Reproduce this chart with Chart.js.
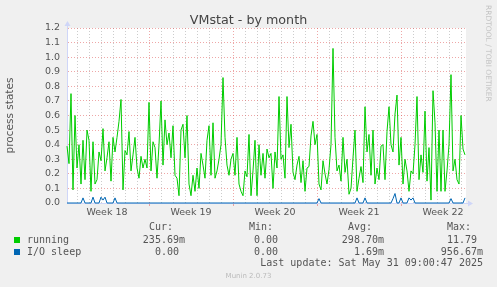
<!DOCTYPE html>
<html>
<head>
<meta charset="utf-8">
<title>VMstat - by month</title>
<script src="https://cdn.jsdelivr.net/npm/chart.js@4.4.1/dist/chart.umd.min.js"></script>
<style>
  html, body { margin: 0; padding: 0; background: #f0f0f0; }
  #wrap { position: relative; width: 497px; height: 287px; overflow: hidden; }
  #wrap canvas { position: absolute; left: 0; top: 0; }
  .t { position: absolute; white-space: pre; font-family: "DejaVu Sans", sans-serif; color: #555; }
  .m { font-family: "DejaVu Sans Mono", monospace; font-size: 10px; line-height: 12px; }
  .sw { position: absolute; width: 6px; height: 6px; }
</style>
</head>
<body>
<div id="wrap">
  <canvas id="chart" width="497" height="287"></canvas>
</div>
<script>
// x axis is in hours, 0 = start of week 19; one sample every 4 hours
const startHour = -164;
const stepHours = 4;
const endHour = 634;

const weekLabels = ['Week 18', 'Week 19', 'Week 20', 'Week 21', 'Week 22'];
const yTicks = [0, 0.1, 0.2, 0.3, 0.4, 0.5, 0.6, 0.7, 0.8, 0.9, 1.0, 1.1, 1.2];

const running = [
  0.39, 0.27, 0.75, 0.09, 0.60, 0.24, 0.40, 0.13, 0.43, 0.16, 0.50, 0.43, 0.08, 0.42, 0.13, 0.16, 0.35, 0.29, 0.51, 0.22,
  0.31, 0.42, 0.15, 0.45, 0.35, 0.45, 0.56, 0.71, 0.09, 0.36, 0.33, 0.49, 0.22, 0.33, 0.45, 0.24, 0.17, 0.32, 0.24, 0.30,
  0.24, 0.69, 0.22, 0.42, 0.38, 0.17, 0.40, 0.70, 0.26, 0.57, 0.40, 0.48, 0.31, 0.53, 0.19, 0.17, 0.05, 0.50, 0.54, 0.31,
  0.60, 0.13, 0.05, 0.19, 0.08, 0.24, 0.10, 0.34, 0.26, 0.17, 0.43, 0.53, 0.19, 0.55, 0.17, 0.22, 0.30, 0.40, 0.86, 0.45,
  0.26, 0.19, 0.30, 0.34, 0.19, 0.45, 0.13, 0.08, 0.05, 0.22, 0.18, 0.47, 0.05, 0.22, 0.43, 0.05, 0.40, 0.19, 0.34, 0.17,
  0.37, 0.31, 0.34, 0.10, 0.35, 0.24, 0.73, 0.30, 0.33, 0.17, 0.73, 0.38, 0.54, 0.21, 0.16, 0.26, 0.32, 0.14, 0.29, 0.08,
  0.24, 0.25, 0.46, 0.56, 0.40, 0.47, 0.13, 0.09, 0.29, 0.20, 0.13, 0.23, 0.40, 1.06, 0.45, 0.22, 0.26, 0.15, 0.45, 0.21,
  0.30, 0.06, 0.10, 0.31, 0.50, 0.08, 0.17, 0.25, 0.14, 0.66, 0.35, 0.47, 0.19, 0.50, 0.13, 0.24, 0.16, 0.39, 0.40, 0.16,
  0.49, 0.66, 0.40, 0.35, 0.61, 0.74, 0.26, 0.45, 0.13, 0.30, 0.22, 0.08, 0.22, 0.20, 0.40, 0.73, 0.16, 0.33, 0.21, 0.63,
  0.15, 0.38, 0.02, 0.77, 0.55, 0.08, 0.50, 0.08, 0.50, 0.08, 0.22, 0.40, 0.88, 0.22, 0.30, 0.16, 0.13, 0.60, 0.37, 0.33
];

const ioSleep = [
  0, 0, 0, 0, 0, 0, 0, 0, 0.035, 0, 0, 0, 0, 0.04, 0, 0, 0, 0.04, 0.02, 0.04,
  0, 0, 0, 0, 0.035, 0, 0, 0, 0, 0, 0, 0, 0, 0, 0, 0, 0, 0, 0, 0,
  0, 0, 0, 0, 0, 0, 0, 0, 0, 0, 0, 0, 0, 0, 0, 0, 0, 0, 0, 0,
  0, 0, 0, 0, 0, 0, 0, 0, 0, 0, 0, 0, 0, 0, 0, 0, 0, 0, 0, 0,
  0, 0, 0, 0, 0, 0, 0, 0, 0, 0, 0, 0, 0, 0, 0, 0, 0, 0, 0, 0,
  0, 0, 0, 0, 0, 0, 0, 0, 0, 0, 0, 0, 0, 0, 0, 0, 0, 0, 0, 0,
  0, 0, 0, 0, 0, 0, 0.03, 0, 0, 0, 0, 0, 0, 0, 0, 0, 0, 0, 0, 0,
  0, 0, 0, 0, 0, 0.035, 0, 0, 0, 0.035, 0, 0, 0, 0, 0, 0, 0, 0, 0, 0,
  0, 0, 0, 0.03, 0.065, 0, 0, 0.035, 0, 0, 0, 0.035, 0.02, 0.035, 0, 0, 0, 0, 0, 0,
  0, 0, 0, 0, 0, 0, 0, 0, 0, 0, 0, 0, 0.03, 0, 0, 0, 0, 0, 0, 0.035
];

const seriesNames = ['running', 'I/O sleep'];
const seriesColors = ['#00cc00', '#0066b3'];
const curVals = ['235.69m', '0.00'];
const minVals = ['0.00', '0.00'];
const avgVals = ['298.70m', '1.69m'];
const maxVals = ['11.79', '956.67m'];
const lastUpdate = 'Last update: Sat May 31 09:00:47 2025';

const majorGrid = 'rgba(222, 79, 79, 0.5)';
const minorGrid = 'rgba(143, 143, 143, 0.45)';
const axisColor = '#cfd6f8';

const hours = running.map((_, i) => startHour + i * stepHours);
const xTicks = [];
for (let h = -156; h <= 624; h += 12) xTicks.push(h);

const frame = {
  id: 'frame',
  beforeDraw(chart) {
    const { ctx, chartArea: a } = chart;
    ctx.save();
    ctx.fillStyle = '#ffffff';
    ctx.fillRect(a.left, a.top, a.right - a.left, a.bottom - a.top);
    ctx.restore();
  },
  afterDraw(chart) {
    const { ctx, chartArea: a } = chart;
    ctx.save();
    ctx.strokeStyle = axisColor;
    ctx.fillStyle = axisColor;
    ctx.lineWidth = 1;
    ctx.beginPath();
    ctx.moveTo(a.left + 0.5, a.top); ctx.lineTo(a.left + 0.5, a.top - 3);
    ctx.moveTo(a.right, a.bottom + 0.5); ctx.lineTo(a.right + 3, a.bottom + 0.5);
    ctx.stroke();
    ctx.beginPath();
    ctx.moveTo(a.left - 2.5, a.top - 2); ctx.lineTo(a.left + 3.5, a.top - 2); ctx.lineTo(a.left + 0.5, a.top - 7);
    ctx.closePath(); ctx.fill();
    ctx.beginPath();
    ctx.moveTo(a.right + 2, a.bottom - 2.5); ctx.lineTo(a.right + 2, a.bottom + 3.5); ctx.lineTo(a.right + 7, a.bottom + 0.5);
    ctx.closePath(); ctx.fill();
    ctx.restore();
  }
};

const tickFont = { family: 'DejaVu Sans', size: 9.5 };

new Chart(document.getElementById('chart'), {
  type: 'line',
  data: {
    datasets: [
      {
        label: seriesNames[1],
        data: ioSleep.map((v, i) => ({ x: hours[i], y: v })),
        borderColor: seriesColors[1],
        clip: 3
      },
      {
        label: seriesNames[0],
        data: running.map((v, i) => ({ x: hours[i], y: v })),
        borderColor: seriesColors[0],
        clip: 3
      }
    ]
  },
  options: {
    responsive: false,
    animation: false,
    events: [],
    layout: { padding: { left: 0, top: 28, right: 31, bottom: 0 } },
    plugins: { legend: { display: false }, tooltip: { enabled: false } },
    elements: { point: { radius: 0 }, line: { borderWidth: 1, tension: 0 } },
    scales: {
      x: {
        type: 'linear',
        min: startHour,
        max: endHour,
        afterBuildTicks: s => { s.ticks = xTicks.map(v => ({ value: v })); },
        afterFit: s => { s.height = 84; },
        ticks: {
          autoSkip: false, maxRotation: 0, minRotation: 0, padding: 1,
          color: '#555', font: tickFont,
          callback: v => ((v + 84) % 168 === 0 ? weekLabels[(v + 84) / 168] : '')
        },
        grid: {
          lineWidth: 1,
          tickLength: 3,
          color: c => (c.tick.value % 168 === 0 ? majorGrid : (c.tick.value % 24 === 0 ? minorGrid : 'transparent')),
          tickColor: c => (c.tick.value % 168 === 0 ? majorGrid : 'transparent')
        },
        border: { color: axisColor, dash: [1, 2] }
      },
      y: {
        min: 0,
        max: 1.2,
        afterBuildTicks: s => { s.ticks = yTicks.map(v => ({ value: v })); },
        afterFit: s => { s.width = 67; },
        ticks: { color: '#555', font: tickFont, padding: 7, callback: v => v.toFixed(1) },
        grid: { color: majorGrid, drawTicks: false, lineWidth: 1 },
        border: { color: axisColor, dash: [1, 2] },
        title: {
          display: true, text: 'process states', color: '#555',
          font: { family: 'DejaVu Sans', size: 10.5 }, padding: { top: 4, bottom: 0 }
        }
      }
    }
  },
  plugins: [frame]
});

// texts around the graph
const wrap = document.getElementById('wrap');
function addText(cls, text, style) {
  const d = document.createElement('div');
  d.className = 't ' + cls;
  d.textContent = text;
  Object.assign(d.style, style);
  wrap.appendChild(d);
  return d;
}
const withUnit = v => (/[a-zA-Z]$/.test(v) ? v : v + ' ');

addText('', 'VMstat - by month', {
  left: '0px', width: '497px', textAlign: 'center', top: '13px',
  fontSize: '12.7px', lineHeight: '14px', color: '#444'
});
addText('', 'RRDTOOL / TOBI OETIKER', {
  left: '492px', top: '5px', fontSize: '7.5px', lineHeight: '8px', color: '#c4c4c4',
  transform: 'rotate(90deg)', transformOrigin: '0 0'
});

const headers = ['Cur:', 'Min:', 'Avg:', 'Max:'];
const headLeft = [149, 249, 348, 447];
const colRight = [185, 284, 384, 483];
headers.forEach((h, i) => addText('m', h, { left: headLeft[i] + 'px', top: '221px' }));

const rowTop = [234, 246];
seriesNames.forEach((name, r) => {
  const sw = document.createElement('div');
  sw.className = 'sw';
  Object.assign(sw.style, { left: '14px', top: (rowTop[r] + 3) + 'px', background: seriesColors[r] });
  wrap.appendChild(sw);
  addText('m', name, { left: '27px', top: rowTop[r] + 'px' });
  [curVals, minVals, avgVals, maxVals].forEach((col, c) => {
    addText('m', withUnit(col[r]), {
      left: (colRight[c] - 80) + 'px', width: '80px', textAlign: 'right', top: rowTop[r] + 'px'
    });
  });
});

addText('m', lastUpdate, { right: '14px', top: '257px' });
addText('', 'Munin 2.0.73', {
  left: '0px', width: '497px', textAlign: 'center', top: '272px',
  fontSize: '7px', lineHeight: '8px', color: '#bbb'
});
</script>
</body>
</html>
